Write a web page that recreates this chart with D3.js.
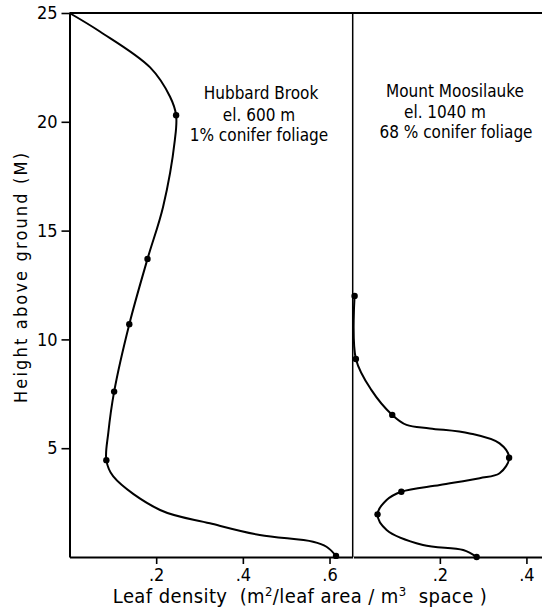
<!DOCTYPE html>
<html>
<head>
<meta charset="utf-8">
<script src="https://cdn.jsdelivr.net/npm/d3@7"></script>
<style>
  body { margin: 0; background: #fff; }
  svg text { font-family: "DejaVu Sans", sans-serif; font-stretch: condensed; fill: #000; }
</style>
</head>
<body>
<svg id="chart" width="542" height="614"></svg>
<script>
// measured dots: [leaf density, height in m]
const hubbardDots = [[0.246, 20.3], [0.180, 13.7], [0.138, 10.7], [0.103, 7.6], [0.085, 4.45], [0.615, 0.05]];
// the drawn curve, top to bottom
const hubbardCurve = [
    [0.0, 25], [0.070, 24.15], [0.186, 22.5], [0.232, 21.15], [0.246, 20.3], [0.243, 19.15],
    [0.216, 16.1], [0.180, 13.7], [0.138, 10.7], [0.103, 7.6], [0.0895, 5.7], [0.085, 4.45],
    [0.101, 3.7], [0.209, 2.16], [0.324, 1.55], [0.439, 1.01], [0.562, 0.70], [0.593, 0.47], [0.615, 0.05]
];

const moosDots = [[0.003, 12.0], [0.006, 9.1], [0.090, 6.53], [0.360, 4.56], [0.111, 3.0], [0.056, 1.96], [0.285, 0.0]];
const moosCurve = [
    [0.003, 12.0], [0.006, 9.1], [0.042, 7.67], [0.090, 6.53], [0.123, 6.07], [0.177, 5.91],
    [0.269, 5.68], [0.338, 5.22], [0.360, 4.56], [0.338, 3.85], [0.292, 3.62], [0.200, 3.31],
    [0.111, 3.0], [0.077, 2.62], [0.056, 1.96], [0.077, 1.24], [0.161, 0.55], [0.254, 0.32], [0.285, 0.0]
];

const heightTicks = [5, 10, 15, 20, 25];
const leftTicks = [0.2, 0.4, 0.6];
const rightTicks = [0.2, 0.4];

const hubbardLabel = ["Hubbard Brook", "el. 600 m", "1% conifer foliage"];
const moosLabel = ["Mount Moosilauke", "el. 1040 m", "68 % conifer foliage"];

const svg = d3.select("#chart");

const y = d3.scaleLinear().domain([0, 25]).range([557, 13]);
const xLeft = d3.scaleLinear().domain([0, 0.653]).range([69.5, 352.5]);
const xRight = d3.scaleLinear().domain([0, 0.436]).range([353.3, 542]);

const fmt = d => String(d).replace(/^0/, "");

// y axis
svg.append("g")
    .attr("transform", "translate(" + xLeft(0) + ",0)")
    .call(d3.axisLeft(y).tickValues(heightTicks).tickSize(8).tickSizeOuter(0).tickPadding(4));

// bottom axes, one per panel
svg.append("g")
    .attr("transform", "translate(0," + y(0) + ")")
    .call(d3.axisBottom(xLeft).tickValues(leftTicks).tickFormat(fmt).tickSize(7).tickSizeOuter(0).tickPadding(4));
svg.append("g")
    .attr("transform", "translate(0," + y(0) + ")")
    .call(d3.axisBottom(xRight).tickValues(rightTicks).tickFormat(fmt).tickSize(7).tickSizeOuter(0).tickPadding(4));

svg.selectAll(".domain").attr("stroke", "#000").attr("stroke-width", 2);
svg.selectAll(".tick line").attr("stroke", "#000").attr("stroke-width", 1.6);
svg.selectAll(".tick text").attr("font-size", 18).attr("font-family", null);

// top border and divider
svg.append("line")
    .attr("x1", xLeft(0)).attr("x2", 542)
    .attr("y1", y(25)).attr("y2", y(25))
    .attr("stroke", "#000").attr("stroke-width", 2);
svg.append("line")
    .attr("x1", xRight(0) - 0.6).attr("x2", xRight(0) - 0.6)
    .attr("y1", y(25)).attr("y2", y(0))
    .attr("stroke", "#000").attr("stroke-width", 1.5);

const lineL = d3.line().x(d => xLeft(d[0])).y(d => y(d[1])).curve(d3.curveCatmullRom.alpha(0.5));
const lineR = d3.line().x(d => xRight(d[0])).y(d => y(d[1])).curve(d3.curveCatmullRom.alpha(0.5));

svg.append("path").datum(hubbardCurve)
    .attr("d", lineL).attr("fill", "none").attr("stroke", "#000").attr("stroke-width", 2);
svg.append("path").datum(moosCurve)
    .attr("d", lineR).attr("fill", "none").attr("stroke", "#000").attr("stroke-width", 2);

svg.selectAll(".dotL").data(hubbardDots).enter().append("circle")
    .attr("cx", d => xLeft(d[0])).attr("cy", d => y(d[1])).attr("r", 3.2).attr("fill", "#000");
svg.selectAll(".dotR").data(moosDots).enter().append("circle")
    .attr("cx", d => xRight(d[0])).attr("cy", d => y(d[1])).attr("r", 3.2).attr("fill", "#000");

// site labels
const drawLabel = (lines, cx, baselines) => {
    svg.selectAll(null).data(lines).enter().append("text")
        .attr("x", (d, i) => cx[i]).attr("y", (d, i) => baselines[i])
        .attr("text-anchor", "middle").attr("font-size", 17)
        .text(d => d);
};
drawLabel(hubbardLabel, [261, 259, 259], [99, 121, 141]);
drawLabel(moosLabel, [455, 445, 456], [97, 118, 138]);

// axis titles
svg.append("text")
    .attr("x", 300).attr("y", 603)
    .attr("text-anchor", "middle").attr("font-size", 20)
    .attr("letter-spacing", 0.4)
    .attr("xml:space", "preserve")
    .html("Leaf density  (m<tspan font-size='13' dy='-7'>2</tspan><tspan dy='7'>/leaf area / m</tspan><tspan font-size='13' dy='-7'>3</tspan><tspan dy='7'>  space )</tspan>");

svg.append("text")
    .attr("transform", "translate(27,278) rotate(-90)")
    .attr("text-anchor", "middle").attr("font-size", 18)
    .attr("textLength", 250).attr("lengthAdjust", "spacing")
    .text("Height above ground (M)");
</script>
</body>
</html>
